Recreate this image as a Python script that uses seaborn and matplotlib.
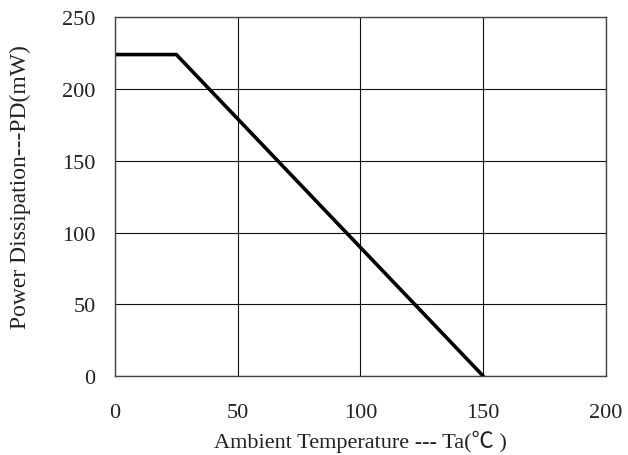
import matplotlib
matplotlib.use("Agg")
import matplotlib.pyplot as plt
import seaborn as sns
import pandas as pd

# derating curve
temp = [0, 25, 150]
power = [224, 224, 0]
x_ticks = [0, 50, 100, 150, 200]
y_ticks = [0, 50, 100, 150, 200, 250]

sns.set_theme(style="white")
plt.rcParams['font.family'] = ['Liberation Serif', 'Noto Sans CJK SC', 'DejaVu Sans']

df = pd.DataFrame({"temp": temp, "power": power})

fig = plt.figure(figsize=(6.28, 4.56), dpi=100)
ax = fig.add_axes([0.183, 0.173, 0.782, 0.787])

sns.lineplot(data=df, x="temp", y="power", color="black", linewidth=2.6, ax=ax)

ax.set_xlim(0, 200)
ax.set_ylim(0, 250)
ax.set_xticks(x_ticks)
ax.set_yticks(y_ticks)
ax.grid(True, color="#111111", linewidth=0.8)
ax.tick_params(axis="both", length=0, labelsize=16, colors="#222222")
ax.tick_params(axis="x", pad=19)
ax.tick_params(axis="y", pad=14)
for s in ax.spines.values():
    s.set_color("#444444")
    s.set_linewidth(1.0)

ax.set_xlabel("Ambient Temperature --- Ta(℃ )", fontsize=16, labelpad=6, color="#222222")
ax.set_ylabel("Power Dissipation---PD(mW)", fontsize=17, color="#222222")
ax.yaxis.set_label_coords(-0.17, 0.53)

fig.savefig("out.png", dpi=100)
